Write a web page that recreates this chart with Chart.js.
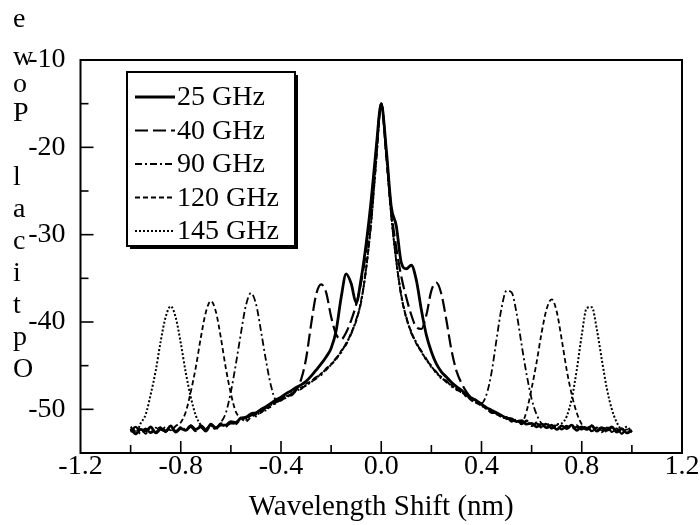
<!DOCTYPE html>
<html>
<head>
<meta charset="utf-8">
<script src="https://cdn.jsdelivr.net/npm/chart.js@4.4.1/dist/chart.umd.min.js"></script>
<style>
  html, body { margin: 0; padding: 0; background: #fff; }
  #c { display: block; }
</style>
</head>
<body>
<canvas id="c" width="700" height="525"></canvas>
<script>
// ---------- DATA ----------
const shift = [
  -1.00,-0.98,-0.96,-0.94,-0.92,-0.90,-0.88,-0.86,-0.84,-0.82,
  -0.80,-0.78,-0.76,-0.74,-0.72,-0.70,-0.68,-0.66,-0.64,-0.62,
  -0.60,-0.58,-0.56,-0.54,-0.52,-0.50,-0.48,-0.46,-0.44,-0.42,
  -0.40,-0.38,-0.36,-0.34,-0.32,-0.30,-0.28,-0.26,-0.24,-0.22,
  -0.20,-0.18,-0.16,-0.14,-0.12,-0.10,-0.08,-0.06,-0.04,-0.02,
   0.00,
   0.02, 0.04, 0.06, 0.08, 0.10, 0.12, 0.14, 0.16, 0.18, 0.20,
   0.22, 0.24, 0.26, 0.28, 0.30, 0.32, 0.34, 0.36, 0.38, 0.40,
   0.42, 0.44, 0.46, 0.48, 0.50, 0.52, 0.54, 0.56, 0.58, 0.60,
   0.62, 0.64, 0.66, 0.68, 0.70, 0.72, 0.74, 0.76, 0.78, 0.80,
   0.82, 0.84, 0.86, 0.88, 0.90, 0.92, 0.94, 0.96, 0.98, 1.00
];

const y25 = [
  -52.2,-52.8,-52.3,-52.5,-52.0,-52.7,-52.3,-52.5,-51.9,-52.6,
  -52.2,-52.4,-51.9,-52.3,-52.0,-52.5,-51.7,-52.1,-51.8,-51.8,
  -51.4,-51.5,-51.0,-50.9,-50.5,-50.4,-50.0,-49.7,-49.3,-48.9,
  -48.6,-48.2,-47.9,-47.5,-47.2,-46.8,-46.2,-45.5,-44.8,-44.0,
  -43.0,-41.0,-37.2,-34.5,-35.6,-37.8,-35.0,-31.0,-26.0,-20.0,
  -15.0,
  -20.2,-26.8,-29.0,-33.2,-33.9,-33.5,-35.2,-38.6,-41.5,-43.4,
  -44.8,-45.7,-46.3,-46.9,-47.4,-47.8,-48.3,-48.7,-49.0,-49.4,
  -49.8,-50.1,-50.4,-50.7,-51.0,-51.1,-51.4,-51.3,-51.7,-51.6,
  -52.0,-51.7,-52.1,-51.8,-52.3,-51.9,-52.2,-51.8,-52.4,-52.0,
  -52.3,-51.9,-52.5,-52.1,-52.4,-52.0,-52.6,-52.2,-52.7,-52.4
];

const y40 = [
  -52.5,-52.0,-52.6,-52.2,-52.7,-52.3,-52.1,-52.6,-52.0,-52.5,
  -52.1,-52.4,-52.0,-52.5,-51.8,-52.3,-51.8,-52.2,-51.6,-51.9,
  -51.6,-51.6,-51.2,-51.0,-50.7,-50.5,-50.3,-49.8,-49.6,-49.2,
  -48.9,-48.4,-48.4,-47.8,-46.6,-44.2,-40.3,-36.9,-35.7,-36.6,
  -39.4,-41.4,-42.0,-41.2,-39.8,-38.0,-35.4,-31.8,-26.5,-20.3,
  -15.0,
  -20.6,-27.2,-31.5,-34.8,-37.2,-39.2,-40.6,-40.8,-39.2,-36.4,
  -35.5,-36.8,-39.8,-43.2,-45.6,-47.0,-48.0,-48.7,-49.0,-49.5,
  -49.8,-50.4,-50.4,-51.0,-50.9,-51.4,-51.1,-51.7,-51.3,-51.9,
  -51.6,-52.1,-51.7,-52.2,-51.8,-52.3,-51.9,-52.4,-52.0,-52.3,
  -51.9,-52.5,-52.1,-52.6,-52.1,-52.5,-52.2,-52.8,-52.2,-52.6
];

const y90 = [
  -52.0,-52.5,-52.2,-52.8,-52.1,-52.6,-52.0,-52.4,-52.2,-52.6,
  -52.0,-52.3,-51.8,-52.4,-51.9,-52.2,-51.8,-52.1,-51.5,-50.4,
  -48.0,-44.8,-41.3,-38.1,-36.7,-37.9,-41.0,-44.4,-47.3,-48.9,
  -48.9,-48.6,-48.3,-47.8,-47.5,-47.3,-46.8,-46.3,-46.1,-45.3,
  -44.9,-44.1,-43.5,-42.4,-41.4,-39.7,-37.7,-33.7,-28.6,-21.4,
  -15.0,
  -20.9,-27.9,-32.9,-37.1,-39.4,-41.3,-42.3,-43.5,-44.2,-45.2,
  -45.7,-46.5,-46.7,-47.4,-47.6,-48.1,-48.4,-49.0,-49.1,-49.3,
  -48.3,-45.8,-42.0,-38.4,-36.4,-36.6,-39.0,-42.6,-46.0,-48.8,
  -50.6,-51.6,-51.8,-52.2,-51.8,-52.3,-51.9,-52.2,-51.8,-52.3,
  -51.9,-52.5,-52.1,-52.4,-52.0,-52.6,-52.2,-52.7,-52.3,-52.5
];

const y120 = [
  -52.6,-52.2,-52.8,-52.3,-52.6,-52.1,-52.5,-52.0,-52.4,-51.9,
  -51.5,-50.3,-48.0,-45.2,-41.8,-38.9,-37.6,-38.8,-41.8,-45.3,
  -48.2,-50.3,-51.0,-51.4,-50.9,-50.6,-50.4,-49.9,-49.7,-49.1,
  -49.0,-48.5,-48.3,-47.8,-47.7,-47.1,-46.8,-46.5,-45.9,-45.5,
  -44.8,-44.3,-43.3,-42.6,-41.2,-39.9,-37.5,-33.9,-28.4,-21.6,
  -15.0,
  -21.1,-27.7,-33.1,-36.9,-39.6,-41.1,-42.5,-43.3,-44.4,-45.0,
  -45.9,-46.3,-46.9,-47.2,-47.8,-47.9,-48.6,-48.8,-49.3,-49.5,
  -50.0,-50.2,-50.6,-50.8,-51.1,-51.2,-51.4,-51.5,-50.2,-47.6,
  -44.6,-41.2,-38.5,-37.4,-38.8,-42.0,-45.5,-48.3,-50.4,-51.7,
  -52.1,-51.8,-52.4,-52.0,-52.6,-52.1,-52.5,-52.2,-52.8,-52.3
];

const y145 = [
  -52.3,-52.7,-51.6,-50.6,-48.3,-45.6,-42.2,-39.4,-38.2,-39.5,
  -42.4,-45.8,-48.6,-50.7,-51.8,-52.4,-51.9,-52.3,-51.7,-52.0,
  -51.5,-51.7,-51.1,-51.2,-50.6,-50.8,-50.2,-50.1,-49.5,-49.3,
  -48.8,-48.7,-48.2,-47.9,-47.6,-47.2,-46.9,-46.4,-46.0,-45.4,
  -44.9,-44.2,-43.4,-42.5,-41.3,-39.8,-37.6,-33.8,-28.5,-21.5,
  -15.0,
  -21.0,-27.8,-33.0,-37.0,-39.5,-41.2,-42.4,-43.4,-44.3,-45.1,
  -45.8,-46.4,-46.8,-47.3,-47.7,-48.0,-48.5,-48.9,-49.2,-49.6,
  -49.9,-50.3,-50.5,-50.9,-51.0,-51.3,-51.2,-51.6,-51.4,-51.8,
  -51.5,-52.0,-51.6,-52.1,-51.7,-51.6,-50.8,-48.8,-45.5,-41.5,
  -38.4,-38.3,-40.8,-44.3,-47.6,-50.0,-51.5,-52.3,-52.0,-52.6
];

const seriesNames = ['25 GHz', '40 GHz', '90 GHz', '120 GHz', '145 GHz'];
const xTitle = 'Wavelength Shift (nm)';
const yTitle = 'Optical Power';

// ---------- STYLE ----------
const FONT = "'Liberation Serif', 'Times New Roman', serif";
const styles = [
  { dash: [],           width: 2.8 },
  { dash: [13, 5],      width: 2.2 },
  { dash: [7, 3, 2, 3], width: 1.8 },
  { dash: [5, 3],       width: 1.8 },
  { dash: [2, 2],       width: 2.0 }
];
const allY = [y25, y40, y90, y120, y145];

const datasets = allY.map((ys, k) => ({
  label: seriesNames[k],
  data: ys.map((v, i) => ({ x: shift[i], y: v })),
  borderColor: '#000',
  borderWidth: styles[k].width,
  borderDash: styles[k].dash,
  pointRadius: 0,
  fill: false,
  cubicInterpolationMode: 'monotone'
}));

const isMajorX = v => Math.abs(Math.round(v * 10)) % 4 === 0;

// baselines (px) of the stacked y-title letters, bottom letter first; the final "r" sits above the canvas
const titleBaselines = [377, 345, 313, 281, 249, 217, 185, 0, 121, 92, 65, 27, -12];

const decor = {
  id: 'decor',
  afterDraw(chart) {
    const { ctx, chartArea: a, scales: { x, y } } = chart;
    ctx.save();
    ctx.strokeStyle = '#000';
    ctx.fillStyle = '#000';
    ctx.lineWidth = 2;
    ctx.setLineDash([]);
    ctx.strokeRect(a.left, a.top, a.right - a.left, a.bottom - a.top);
    ctx.lineWidth = 1.6;
    x.ticks.forEach(t => {
      const px = x.getPixelForValue(t.value);
      if (px <= a.left + 2 || px >= a.right - 2) return;
      const len = isMajorX(t.value) ? 12 : 8;
      ctx.beginPath(); ctx.moveTo(px, a.bottom); ctx.lineTo(px, a.bottom - len); ctx.stroke();
    });
    y.ticks.forEach(t => {
      const py = y.getPixelForValue(t.value);
      if (py <= a.top + 2 || py >= a.bottom - 2) return;
      const len = (Math.round(t.value) % 10 === 0) ? 13 : 8;
      ctx.beginPath(); ctx.moveTo(a.left, py); ctx.lineTo(a.left + len, py); ctx.stroke();
    });

    // stacked y-axis title, read bottom to top
    ctx.font = '28px ' + FONT;
    ctx.textAlign = 'left';
    ctx.textBaseline = 'alphabetic';
    yTitle.split('').forEach((ch, k) => {
      if (ch === ' ') return;
      ctx.fillText(ch, 13, titleBaselines[k]);
    });

    // legend
    const lx = 127, ly = 72, lw = 168, lh = 174;
    ctx.lineWidth = 2;
    ctx.strokeRect(lx, ly, lw, lh);
    ctx.fillRect(lx + lw, ly + 3, 3, lh);
    ctx.fillRect(lx + 3, ly + lh, lw, 3);
    ctx.textAlign = 'left';
    ctx.textBaseline = 'middle';
    seriesNames.forEach((name, k) => {
      const ry = ly + 25 + k * 33.5;
      ctx.lineWidth = styles[k].width;
      ctx.setLineDash(styles[k].dash);
      ctx.beginPath(); ctx.moveTo(lx + 8, ry); ctx.lineTo(lx + 48, ry); ctx.stroke();
      ctx.setLineDash([]);
      ctx.fillText(name, lx + 50, ry + 1);
    });
    ctx.restore();
  }
};

new Chart(document.getElementById('c'), {
  type: 'line',
  data: { datasets },
  options: {
    responsive: false,
    animation: false,
    devicePixelRatio: 1,
    layout: { padding: { top: 60, right: 18, bottom: 0, left: 0 } },
    plugins: { legend: { display: false }, tooltip: { enabled: false } },
    scales: {
      x: {
        type: 'linear',
        min: -1.2, max: 1.2,
        grid: { display: false, drawTicks: false },
        border: { display: false },
        ticks: {
          stepSize: 0.2, autoSkip: false, maxRotation: 0, padding: -3,
          color: '#000', font: { family: FONT, size: 28 },
          callback: v => isMajorX(v) ? (Math.abs(v) < 1e-9 ? '0.0' : v.toFixed(1)) : ''
        },
        title: { display: true, text: xTitle, color: '#000', font: { family: FONT, size: 29 }, padding: { top: 0, bottom: 0 } },
        afterFit: s => { s.height = 72; }
      },
      y: {
        min: -55, max: -10,
        grid: { display: false, drawTicks: false },
        border: { display: false },
        ticks: {
          stepSize: 5, autoSkip: false, padding: 15,
          color: '#000', font: { family: FONT, size: 28 },
          callback: v => (Math.round(v) % 10 === 0 ? String(v) : '')
        },
        afterFit: s => { s.width = 80.5; }
      }
    }
  },
  plugins: [decor]
});
</script>
</body>
</html>
